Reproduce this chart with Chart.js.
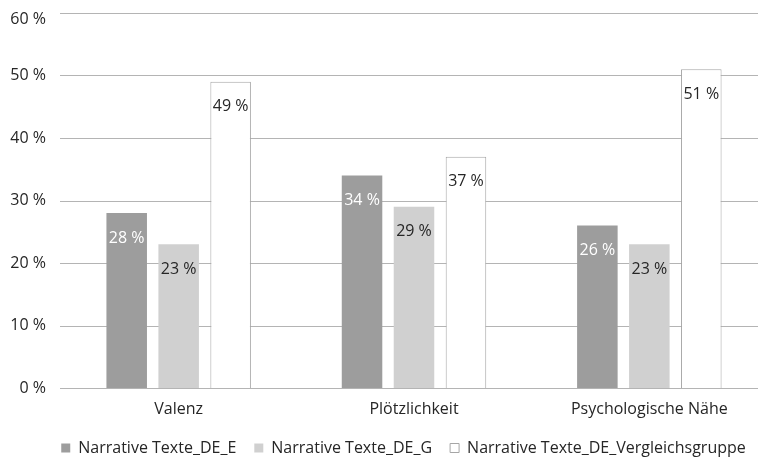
<!DOCTYPE html>
<html>
<head>
<meta charset="utf-8">
<script src="https://cdn.jsdelivr.net/npm/chart.js@4/dist/chart.umd.min.js"></script>
<style>
html,body{margin:0;padding:0;background:#fff;}
#wrap{width:768px;height:458px;position:relative;}
</style>
</head>
<body>
<div id="wrap"><canvas id="c" width="768" height="458"></canvas></div>
<script>
const categories = ["Valenz", "Plötzlichkeit", "Psychologische Nähe"];
const seriesNames = ["Narrative Texte_DE_E", "Narrative Texte_DE_G", "Narrative Texte_DE_Vergleichsgruppe"];
const valuesE = [28, 34, 26];
const valuesG = [23, 29, 23];
const valuesV = [49, 37, 51];
const yTicks = [0, 10, 20, 30, 40, 50, 60];

const FONT = "'Open Sans', sans-serif";
const TEXT = '#262626';

const gridPlugin = {
  id: 'gridLines',
  beforeDatasetsDraw(chart) {
    const {ctx, chartArea, scales} = chart;
    ctx.save();
    ctx.strokeStyle = '#b4b4b4';
    ctx.lineWidth = 1;
    yTicks.forEach(v => {
      const y = Math.round(scales.y.getPixelForValue(v)) + 0.5;
      ctx.beginPath();
      ctx.moveTo(chartArea.left - 1, y);
      ctx.lineTo(chartArea.right - 9, y);
      ctx.stroke();
    });
    // y tick labels (top label nudged down like the reference)
    ctx.fillStyle = TEXT;
    ctx.font = "16px " + FONT;
    ctx.textAlign = 'right';
    ctx.textBaseline = 'middle';
    const maxV = yTicks[yTicks.length - 1];
    yTicks.forEach(v => {
      let y = scales.y.getPixelForValue(v);
      if (v === maxV) y += 6;
      ctx.fillText(v + ' %', chartArea.left - 15, y);
    });
    ctx.restore();
  }
};

const labelPlugin = {
  id: 'valueLabels',
  afterDatasetsDraw(chart) {
    const {ctx} = chart;
    ctx.save();
    ctx.font = "16px " + FONT;
    ctx.textAlign = 'center';
    ctx.textBaseline = 'middle';
    chart.data.datasets.forEach((ds, i) => {
      const meta = chart.getDatasetMeta(i);
      ctx.fillStyle = i === 0 ? '#ffffff' : TEXT;
      meta.data.forEach((bar, j) => {
        ctx.fillText(ds.data[j] + ' %', bar.x, bar.y + 25);
      });
    });
    ctx.restore();
  }
};

new Chart(document.getElementById('c'), {
  type: 'bar',
  data: {
    labels: categories,
    datasets: [
      {label: seriesNames[0], data: valuesE, backgroundColor: '#9d9d9d', borderWidth: 0},
      {label: seriesNames[1], data: valuesG, backgroundColor: '#d0d0d0', borderWidth: 0},
      {label: seriesNames[2], data: valuesV, backgroundColor: '#ffffff', borderColor: '#a6a6a6', borderWidth: 1}
    ]
  },
  options: {
    responsive: false,
    animation: false,
    devicePixelRatio: 1,
    categoryPercentage: 0.6625,
    barPercentage: 0.78,
    layout: {padding: {top: 13, right: 1, left: 40, bottom: -8}},
    scales: {
      x: {
        grid: {display: false, drawTicks: false},
        border: {display: false},
        ticks: {color: TEXT, font: {family: FONT, size: 16}, padding: 12},
        afterFit(s) { s.height = 34; s.paddingLeft = 0; s.paddingRight = 0; }
      },
      y: {
        min: 0, max: 60,
        grid: {display: false, drawTicks: false},
        border: {display: false},
        ticks: {stepSize: 10, display: false},
        afterFit(s) { s.width = 21; s.paddingTop = 0; s.paddingBottom = 0; }
      }
    },
    plugins: {
      legend: {
        position: 'bottom',
        labels: {
          boxWidth: 9, boxHeight: 9, padding: 18,
          color: TEXT,
          font: {family: FONT, size: 16}
        }
      },
      tooltip: {enabled: false}
    }
  },
  plugins: [gridPlugin, labelPlugin]
});
</script>
</body>
</html>
